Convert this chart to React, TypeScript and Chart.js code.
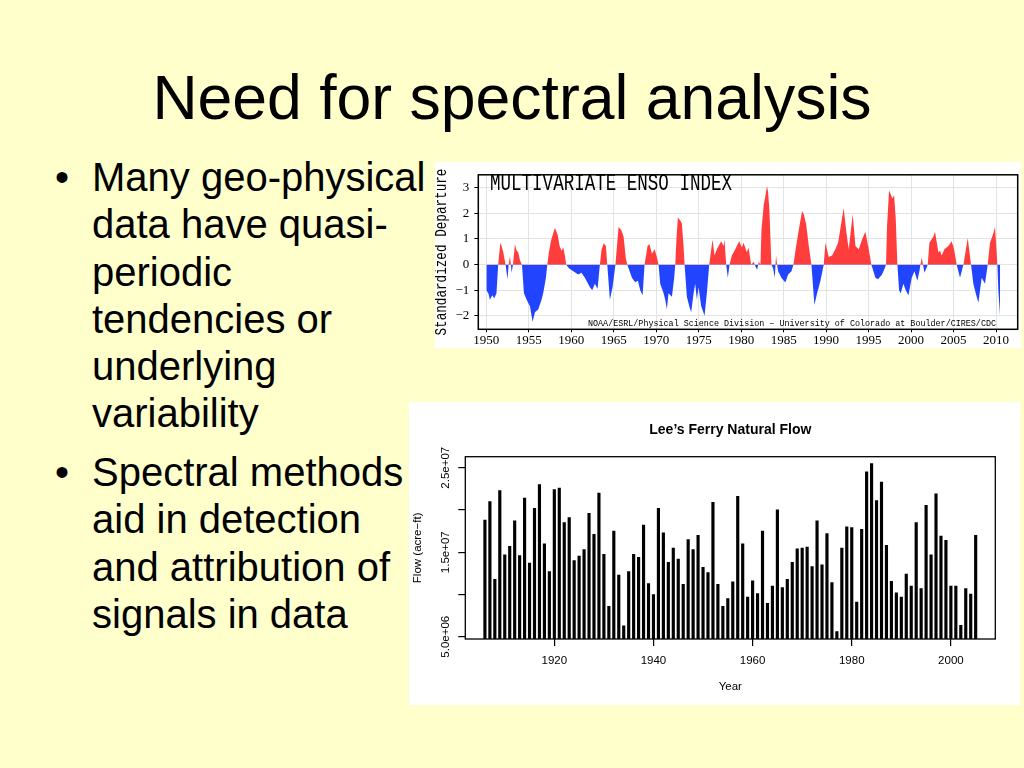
import React, { useEffect, useRef } from "react";
import { Chart, registerables } from "chart.js";

Chart.register(...registerables);

// ---------- Multivariate ENSO Index ----------
const meiYears = [
  1950.0, 1950.24, 1950.43, 1950.7, 1950.94, 1951.2, 1951.4, 1951.65, 1951.8, 1952.0,
  1952.27, 1952.5, 1952.63, 1952.78, 1952.9, 1952.98, 1953.14, 1953.37, 1953.57, 1953.76,
  1953.96, 1954.2, 1954.43, 1954.75, 1955.14, 1955.45, 1955.73, 1956.12, 1956.5, 1956.7,
  1957.02, 1957.18, 1957.37, 1957.6, 1957.88, 1958.08, 1958.4, 1958.63, 1958.86, 1959.06,
  1959.25, 1959.41, 1959.73, 1960.24, 1960.82, 1961.2, 1961.6, 1962.2, 1962.47, 1962.78,
  1963.1, 1963.37, 1963.57, 1963.84, 1964.08, 1964.24, 1964.55, 1964.86, 1965.2, 1965.57,
  1965.89, 1966.16, 1966.43, 1966.6, 1966.75, 1967.14, 1967.53, 1967.85, 1968.12, 1968.4,
  1968.63, 1968.98, 1969.22, 1969.5, 1969.81, 1970.08, 1970.28, 1970.47, 1970.87, 1971.06,
  1971.26, 1971.45, 1971.85, 1972.12, 1972.24, 1972.4, 1972.55, 1972.83, 1973.02, 1973.22,
  1973.34, 1973.61, 1973.89, 1974.12, 1974.4, 1974.59, 1974.79, 1974.98, 1975.3, 1975.69,
  1975.96, 1976.24, 1976.63, 1976.87, 1977.14, 1977.65, 1977.93, 1978.04, 1978.24, 1978.43,
  1978.63, 1978.9, 1979.22, 1979.49, 1979.77, 1980.08, 1980.28, 1980.67, 1980.87, 1981.18,
  1981.49, 1981.68, 1981.88, 1982.07, 1982.27, 1982.39, 1982.66, 1983.05, 1983.17, 1983.33,
  1983.56, 1983.76, 1983.96, 1984.04, 1984.11, 1984.23, 1984.35, 1984.74, 1985.02, 1985.21,
  1985.53, 1985.92, 1986.15, 1986.47, 1986.78, 1987.17, 1987.37, 1987.64, 1987.96, 1988.27,
  1988.47, 1988.62, 1988.94, 1989.33, 1989.72, 1989.92, 1990.31, 1990.7, 1991.09, 1991.41,
  1991.68, 1992.07, 1992.35, 1992.66, 1993.13, 1993.45, 1993.84, 1994.23, 1994.62, 1995.02,
  1995.33, 1995.8, 1996.11, 1996.58, 1996.9, 1997.05, 1997.17, 1997.41, 1997.65, 1997.8,
  1998.0, 1998.19, 1998.39, 1998.59, 1998.78, 1999.1, 1999.37, 1999.69, 2000.08, 2000.39,
  2000.74, 2000.98, 2001.1, 2001.25, 2001.41, 2001.57, 2001.96, 2002.16, 2002.63, 2002.82,
  2003.21, 2003.41, 2003.61, 2003.92, 2004.39, 2004.78, 2005.06, 2005.37, 2005.76, 2006.16,
  2006.67, 2007.06, 2007.33, 2007.61, 2007.92, 2008.31, 2008.7, 2009.02, 2009.29, 2009.69,
  2009.88, 2010.16, 2010.27, 2010.47,
];
const meiValues = [
  -1.0, -1.12, -1.37, -1.19, -1.31, -1.12, 0, 0.85, 0.73, 0.48,
  0, -0.57, 0, 0.33, 0, -0.32, 0, 0.79, 0.54, 0.48,
  0.17, 0, -1.12, -1.37, -1.62, -2.23, -1.86, -1.74, -1.37, -1.12,
  -0.51, 0, 0.48, 0.91, 1.22, 1.44, 1.16, 0.73, 0.54, 0.67,
  0.36, 0, -0.14, -0.26, -0.38, -0.32, -0.51, -0.88, -1.0, -0.75,
  -0.94, 0, 0.6, 0.83, 0.73, 0, -1.37, -0.88, 0, 1.47,
  1.35, 1.1, 0.23, 0, -0.14, -0.51, -0.69, -0.63, -1.0, -1.19,
  0, 0.73, 0.79, 0.42, 0.6, 0.3, 0, -0.75, -1.12, -1.37,
  -1.74, -1.12, -1.25, -0.51, 0, 1.1, 1.84, 1.72, 1.6, 0.73,
  0, -1.25, -1.62, -1.86, -1.12, -0.75, -1.37, -0.88, -1.62, -1.99,
  -1.12, 0, 0.98, 0.36, 0.6, 0.91, 0.73, 0.98, 0, -0.51,
  0, 0.36, 0.54, 0.73, 0.91, 0.67, 0.85, 0.48, 0.67, 0,
  0.11, -0.07, -0.2, 0.11, 0, 1.35, 2.33, 3.05, 2.83, 2.09,
  0, -0.14, -0.51, 0, 0.36, 0, -0.26, -0.51, -0.63, -0.69,
  -0.38, -0.26, 0, 0.73, 1.35, 2.09, 1.96, 1.59, 0.73, 0,
  -0.88, -1.56, -1.12, -0.63, 0, 0.85, 0.3, 0.36, 0.6, 0.85,
  1.41, 2.21, 1.35, 0.6, 1.96, 0.73, 0.6, 0.98, 1.28, 0.6,
  0, -0.51, -0.57, -0.38, -0.14, 0, 1.5, 2.89, 2.7, 2.58,
  2.7, 1.84, 0, -1.0, -1.12, -0.75, -1.0, -1.19, -0.51, -0.26,
  -0.63, -0.26, 0, 0.27, 0, -0.32, 0, 0.85, 1.1, 1.28,
  0.48, 0.54, 0.36, 0.6, 0.73, 0.91, 0.6, 0, -0.51, 0,
  1.04, 0, -0.75, -1.12, -1.49, -0.51, -0.75, 0, 0.85, 1.22,
  1.47, 0, -1.0, -1.99,
];
const meiXTicks = [1950, 1955, 1960, 1965, 1970, 1975, 1980, 1985, 1990, 1995, 2000, 2005, 2010];
const meiYTicks = [-2, -1, 0, 1, 2, 3];
const meiTitle = "MULTIVARIATE ENSO INDEX";
const meiAxisTitle = "Standardized Departure";
const meiCredit = "NOAA/ESRL/Physical Science Division \u2013 University of Colorado at Boulder/CIRES/CDC";

// ---------- Lee's Ferry natural flow, 1906-2005 (acre-ft) ----------
const flowStartYear = 1906;
const flowValues = [
  18.8e6, 21.0e6, 11.8e6, 22.3e6, 14.7e6, 15.7e6, 18.7e6, 14.6e6, 21.4e6, 13.7e6,
  20.2e6, 23.0e6, 16.0e6, 12.7e6, 22.4e6, 22.6e6, 18.5e6, 19.1e6, 14.0e6, 14.55e6,
  15.3e6, 19.6e6, 17.1e6, 22.0e6, 14.75e6, 8.6e6, 17.5e6, 12.3e6, 6.3e6, 12.7e6,
  14.75e6, 14.4e6, 18.2e6, 11.3e6, 10.0e6, 20.2e6, 17.3e6, 13.8e6, 15.5e6, 14.2e6,
  11.2e6, 16.5e6, 15.3e6, 17.0e6, 13.2e6, 12.6e6, 20.9e6, 11.2e6, 8.6e6, 9.5e6,
  11.5e6, 21.6e6, 16.0e6, 9.7e6, 11.6e6, 10.1e6, 17.5e6, 8.95e6, 11.0e6, 20.0e6,
  10.8e6, 11.8e6, 13.8e6, 15.4e6, 15.5e6, 15.6e6, 13.3e6, 18.7e6, 13.5e6, 17.2e6,
  11.4e6, 5.6e6, 15.5e6, 18.0e6, 17.9e6, 9.1e6, 17.7e6, 24.5e6, 25.5e6, 21.1e6,
  23.3e6, 15.8e6, 11.55e6, 10.2e6, 9.7e6, 12.4e6, 11.0e6, 18.5e6, 10.7e6, 20.55e6,
  14.7e6, 21.9e6, 16.9e6, 16.4e6, 11.0e6, 11.0e6, 6.35e6, 10.7e6, 10.05e6, 17.0e6,
];
const flowYears = flowValues.map((_, i) => flowStartYear + i);
const flowXTicks = [1920, 1940, 1960, 1980, 2000];
const flowYTicks = [5e6, 1e7, 1.5e7, 2e7, 2.5e7];
const flowYTickLabels = ["5.0e+06", "", "1.5e+07", "", "2.5e+07"];
const flowTitle = "Lee\u2019s Ferry Natural Flow";
const flowXTitle = "Year";
const flowYTitle = "Flow (acre\u2212ft)";

// ---------- Slide text ----------
const slideTitle = "Need for spectral analysis";
const bulletParagraphs = [
  ["Many geo-physical", "data have quasi-", "periodic", "tendencies or", "underlying", "variability"],
  ["Spectral methods", "aid in detection", "and attribution of", "signals in data"],
];

const RED = "#ff3d3d";
const BLUE = "#2244ff";
const SANS = '"Liberation Sans", Arial, Helvetica, sans-serif';
const MONO = '"Liberation Mono", "Courier New", monospace';
const SERIF = '"Liberation Serif", "Times New Roman", serif';

function drawFitted(
  ctx: CanvasRenderingContext2D,
  text: string,
  family: string,
  x: number,
  cy: number,
  targetW: number,
  capH: number,
  align: CanvasTextAlign,
  rotate = false
) {
  ctx.save();
  ctx.font = `normal 20px ${family}`;
  const w = ctx.measureText(text).width;
  const capM = ctx.measureText("H").actualBoundingBoxAscent || 13;
  ctx.translate(x, cy);
  if (rotate) ctx.rotate(-Math.PI / 2);
  ctx.scale(targetW / w, capH / capM);
  ctx.textAlign = align;
  ctx.textBaseline = "alphabetic";
  ctx.fillStyle = "#000";
  ctx.fillText(text, 0, capM / 2);
  ctx.restore();
}

function framePlugin(width: number) {
  return {
    id: "frame" + width,
    afterDraw(chart: any) {
      const { ctx, chartArea: a } = chart;
      ctx.save();
      ctx.strokeStyle = "#000";
      ctx.lineWidth = width;
      ctx.strokeRect(a.left, a.top, a.right - a.left, a.bottom - a.top);
      ctx.restore();
    },
  };
}

const meiTextPlugin = {
  id: "meiText",
  afterDraw(chart: any) {
    const { ctx, chartArea: a } = chart;
    drawFitted(ctx, meiTitle, MONO, a.left + 11.7, 20.5, 242, 15, "left");
    drawFitted(ctx, meiCredit, MONO, a.left + 109.7, 160.8, 408, 5.8, "left");
    drawFitted(ctx, meiAxisTitle, MONO, 6.2, (a.top + a.bottom) / 2, 167, 10.5, "center", true);
  },
};

const flowTextPlugin = {
  id: "flowText",
  afterDraw(chart: any) {
    const { ctx, chartArea: a, scales } = chart;
    ctx.save();
    ctx.fillStyle = "#000";
    ctx.font = `bold 14px ${SANS}`;
    ctx.textAlign = "center";
    ctx.textBaseline = "middle";
    ctx.fillText(flowTitle, (a.left + a.right) / 2, 27.7);
    ctx.font = `11.5px ${SANS}`;
    const y = scales.y;
    flowYTicks.forEach((v, i) => {
      const label = flowYTickLabels[i];
      if (!label) return;
      ctx.save();
      ctx.translate(a.left - 19, y.getPixelForValue(v));
      ctx.rotate(-Math.PI / 2);
      ctx.textAlign = "center";
      ctx.textBaseline = "middle";
      ctx.fillText(label, 0, 0);
      ctx.restore();
    });
    ctx.restore();
  },
};

function MeiChart() {
  const ref = useRef<HTMLCanvasElement | null>(null);
  useEffect(() => {
    if (!ref.current) return;
    const chart = new Chart(ref.current, {
      type: "line",
      data: {
        datasets: [
          {
            data: meiYears.map((x, i) => ({ x, y: meiValues[i] })),
            fill: { target: "origin", above: RED, below: BLUE },
            backgroundColor: RED,
            borderWidth: 0,
            pointRadius: 0,
            tension: 0,
          } as any,
        ],
      },
      options: {
        animation: false,
        responsive: false,
        devicePixelRatio: 1,
        layout: { padding: { top: 4.7, right: 3.3, left: 0, bottom: 0 } },
        plugins: { legend: { display: false }, tooltip: { enabled: false }, title: { display: false } },
        scales: {
          x: {
            type: "linear",
            min: 1949.06,
            max: 2012.55,
            afterBuildTicks: (s: any) => {
              s.ticks = meiXTicks.map((value) => ({ value }));
            },
            afterFit: (s: any) => {
              s.height = 18.7;
            },
            grid: { color: "#e3e3e3", tickColor: "#000", tickLength: 3, lineWidth: 1 },
            border: { display: false },
            ticks: {
              autoSkip: false,
              maxRotation: 0,
              minRotation: 0,
              padding: 0,
              color: "#000",
              font: { family: SERIF, size: 13 },
              callback: (v: any) => String(v),
            },
          },
          y: {
            type: "linear",
            min: -2.52,
            max: 3.5,
            afterBuildTicks: (s: any) => {
              s.ticks = meiYTicks.map((value) => ({ value }));
            },
            afterFit: (s: any) => {
              s.width = 43.3;
            },
            grid: { color: "#e3e3e3", tickColor: "#000", tickLength: 4, lineWidth: 1 },
            border: { display: false },
            ticks: {
              padding: 5,
              color: "#000",
              font: { family: SERIF, size: 13 },
              callback: (v: any) => (Number(v) < 0 ? "\u2212" + Math.abs(Number(v)) : String(v)),
            },
          },
        },
      } as any,
      plugins: [framePlugin(1.5), meiTextPlugin],
    });
    return () => chart.destroy();
  }, []);
  return <canvas ref={ref} width={586} height={186} style={{ display: "block", width: 586, height: 186 }} />;
}

function FlowChart() {
  const ref = useRef<HTMLCanvasElement | null>(null);
  useEffect(() => {
    if (!ref.current) return;
    const chart = new Chart(ref.current, {
      type: "bar",
      data: {
        datasets: [
          {
            data: flowYears.map((x, i) => ({ x, y: flowValues[i] })),
            backgroundColor: "#000",
            borderWidth: 0,
            barThickness: 2.5,
          } as any,
        ],
      },
      options: {
        animation: false,
        responsive: false,
        devicePixelRatio: 1,
        layout: { padding: { top: 54.7, right: 24.7, left: 0, bottom: 0 } },
        plugins: { legend: { display: false }, tooltip: { enabled: false }, title: { display: false } },
        scales: {
          x: {
            type: "linear",
            offset: false,
            min: 1902.04,
            max: 2008.96,
            afterBuildTicks: (s: any) => {
              s.ticks = flowXTicks.map((value) => ({ value }));
            },
            afterFit: (s: any) => {
              s.height = 66;
            },
            grid: { display: true, drawOnChartArea: false, offset: false, tickLength: 7, tickColor: "#000", lineWidth: 1.2 },
            border: { display: false },
            ticks: {
              autoSkip: false,
              maxRotation: 0,
              minRotation: 0,
              padding: 8,
              color: "#000",
              font: { family: SANS, size: 11.5 },
              callback: (v: any) => String(v),
            },
            title: {
              display: true,
              text: flowXTitle,
              color: "#000",
              font: { family: SANS, size: 11.5 },
              padding: { top: 0, bottom: 11.4 },
            },
          },
          y: {
            type: "linear",
            min: 4.73e6,
            max: 26.3e6,
            afterBuildTicks: (s: any) => {
              s.ticks = flowYTicks.map((value) => ({ value }));
            },
            afterFit: (s: any) => {
              s.width = 56.3;
            },
            grid: { display: true, drawOnChartArea: false, tickLength: 7, tickColor: "#000", lineWidth: 1.2 },
            border: { display: false },
            ticks: { display: false },
            title: {
              display: true,
              text: flowYTitle,
              color: "#000",
              font: { family: SANS, size: 11.5 },
              padding: { top: 2.1, bottom: 0 },
            },
          },
        },
      } as any,
      plugins: [framePlugin(1.3), flowTextPlugin],
    });
    return () => chart.destroy();
  }, []);
  return <canvas ref={ref} width={611} height={303} style={{ display: "block", width: 611, height: 303 }} />;
}

export default function App() {
  const lineH = 47.2;
  const paraTops = [154.2, 449.2];
  return (
    <div
      style={{
        position: "fixed",
        left: 0,
        top: 0,
        width: 1024,
        height: 768,
        background: "#ffffcc",
        overflow: "hidden",
        fontFamily: SANS,
        color: "#000",
      }}
    >
      <div
        style={{
          position: "absolute",
          left: 0,
          top: 66,
          width: 1024,
          textAlign: "center",
          fontSize: 62.5,
          lineHeight: "62.5px",
          whiteSpace: "nowrap",
        }}
      >
        {slideTitle}
      </div>
      {bulletParagraphs.map((lines, p) => (
        <div key={p} style={{ position: "absolute", left: 0, top: paraTops[p], fontSize: 40, lineHeight: `${lineH}px` }}>
          <div style={{ position: "absolute", left: 55, top: 0, whiteSpace: "nowrap" }}>{"\u2022"}</div>
          <div style={{ position: "absolute", left: 92, top: 0, whiteSpace: "nowrap" }}>
            {lines.map((l, i) => (
              <div key={i}>{l}</div>
            ))}
          </div>
        </div>
      ))}
      <div style={{ position: "absolute", left: 435, top: 162, width: 586, height: 186, background: "#fff" }}>
        <MeiChart />
      </div>
      <div style={{ position: "absolute", left: 409, top: 402, width: 611, height: 303, background: "#fff" }}>
        <FlowChart />
      </div>
    </div>
  );
}
